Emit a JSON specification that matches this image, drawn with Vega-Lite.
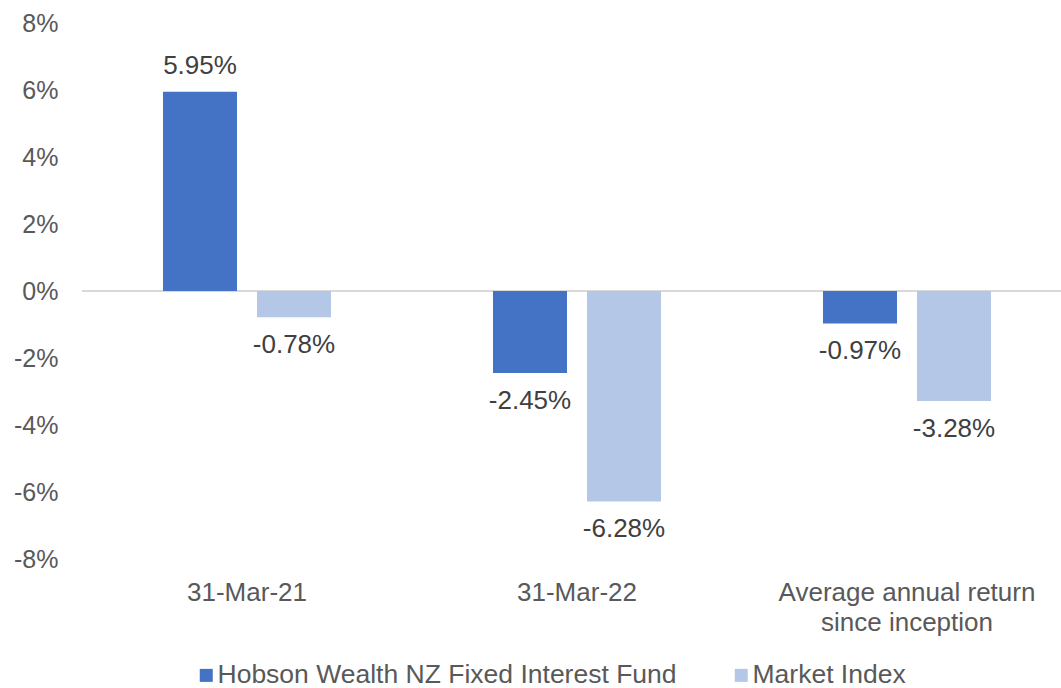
{
  "$schema": "https://vega.github.io/schema/vega-lite/v6.json",
  "width": 990,
  "height": 536,
  "autosize": "none",
  "padding": {"left": 82, "top": 23, "right": 0, "bottom": 129},
  "config": {
    "view": {"stroke": null},
    "font": "Liberation Sans",
    "locale": {"number": {"decimal": ".", "thousands": ",", "grouping": [3], "currency": ["$", ""], "minus": "-"}}
  },
  "data": {
    "values": [
      {"period": "31-Mar-21", "series": "Hobson Wealth NZ Fixed Interest Fund", "value": 0.0595},
      {"period": "31-Mar-21", "series": "Market Index", "value": -0.0078},
      {"period": "31-Mar-22", "series": "Hobson Wealth NZ Fixed Interest Fund", "value": -0.0245},
      {"period": "31-Mar-22", "series": "Market Index", "value": -0.0628},
      {"period": "Average annual return since inception", "series": "Hobson Wealth NZ Fixed Interest Fund", "value": -0.0097},
      {"period": "Average annual return since inception", "series": "Market Index", "value": -0.0328}
    ]
  },
  "layer": [
    {
      "mark": {"type": "rule", "color": "#D9D9D9", "strokeWidth": 1.5},
      "encoding": {"y": {"datum": 0, "type": "quantitative"}}
    },
    {
      "mark": {"type": "bar"},
      "encoding": {
        "x": {
          "field": "period", "type": "nominal",
          "sort": ["31-Mar-21", "31-Mar-22", "Average annual return since inception"],
          "scale": {"paddingInner": 0, "paddingOuter": 0},
          "title": null,
          "axis": {
            "domain": false, "ticks": false, "labelAngle": 0, "labelPadding": 20,
            "labelFontSize": 26, "labelColor": "#595959", "labelLineHeight": 30, "labelLimit": 0,
            "labelExpr": "datum.value == 'Average annual return since inception' ? ['Average annual return', 'since inception'] : datum.value"
          }
        },
        "xOffset": {
          "field": "series", "type": "nominal",
          "sort": ["Hobson Wealth NZ Fixed Interest Fund", "Market Index"],
          "scale": {"paddingInner": 0.2128, "paddingOuter": 0.8617}
        },
        "y": {
          "field": "value", "type": "quantitative",
          "scale": {"domain": [-0.08, 0.08], "nice": false, "zero": true},
          "title": null,
          "axis": {
            "values": [-0.08, -0.06, -0.04, -0.02, 0, 0.02, 0.04, 0.06, 0.08],
            "format": ".0%", "grid": false, "domain": false, "ticks": false,
            "labelPadding": 24, "labelFontSize": 25, "labelColor": "#595959"
          }
        },
        "color": {
          "field": "series", "type": "nominal",
          "sort": ["Hobson Wealth NZ Fixed Interest Fund", "Market Index"],
          "scale": {"range": ["#4472C4", "#B4C7E7"]},
          "legend": {
            "title": null, "orient": "none", "legendX": 111, "legendY": 639,
            "direction": "horizontal", "symbolType": "square", "symbolSize": 169,
            "symbolStrokeWidth": 0, "labelFontSize": 26.5, "labelColor": "#595959",
            "labelLimit": 0, "labelOffset": -2, "columnPadding": 51, "padding": 0
          }
        }
      }
    },
    {
      "transform": [{"filter": "datum.value >= 0"}],
      "mark": {"type": "text", "baseline": "middle", "dy": -26, "fontSize": 26, "color": "#404040"},
      "encoding": {
        "x": {"field": "period", "type": "nominal", "sort": ["31-Mar-21", "31-Mar-22", "Average annual return since inception"]},
        "xOffset": {"field": "series", "type": "nominal", "sort": ["Hobson Wealth NZ Fixed Interest Fund", "Market Index"]},
        "y": {"field": "value", "type": "quantitative"},
        "text": {"field": "value", "type": "quantitative", "format": ".2%"}
      }
    },
    {
      "transform": [{"filter": "datum.value < 0"}],
      "mark": {"type": "text", "baseline": "middle", "dy": 28, "fontSize": 26, "color": "#404040"},
      "encoding": {
        "x": {"field": "period", "type": "nominal", "sort": ["31-Mar-21", "31-Mar-22", "Average annual return since inception"]},
        "xOffset": {"field": "series", "type": "nominal", "sort": ["Hobson Wealth NZ Fixed Interest Fund", "Market Index"]},
        "y": {"field": "value", "type": "quantitative"},
        "text": {"field": "value", "type": "quantitative", "format": ".2%"}
      }
    }
  ]
}
